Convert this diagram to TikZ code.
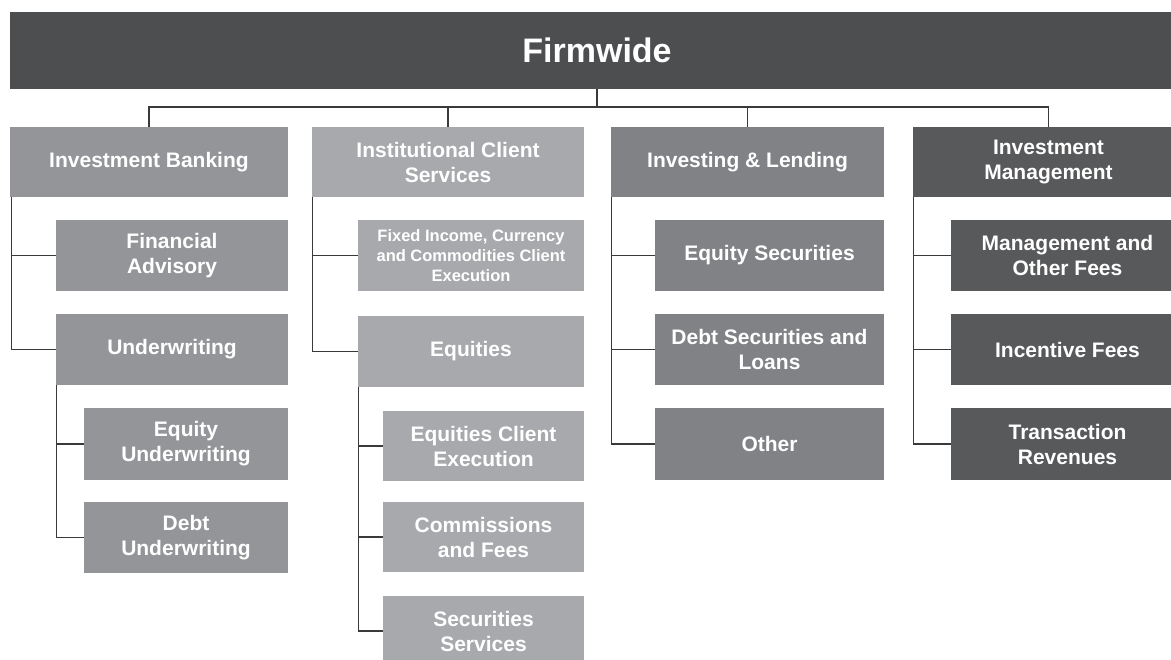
\documentclass[tikz,border=0pt]{standalone}
\usepackage{fontspec}
\setmainfont{Liberation Sans}
\definecolor{cfw}{HTML}{4D4E50}
\definecolor{cib}{HTML}{939598}
\definecolor{cics}{HTML}{A7A9AC}
\definecolor{cil}{HTML}{808285}
\definecolor{cim}{HTML}{58595B}
\definecolor{linec}{HTML}{3A3A3C}
\tikzset{
  box/.style={inner sep=0pt, align=center, text=white, font=\bfseries\fontsize{21}{25}\selectfont},
  smallbox/.style={box, font=\bfseries\fontsize{16.5}{20}\selectfont},
  conn/.style={draw=linec, line width=1.2pt}
}
\newcommand\mybox[8][box]{%
  \node[#1, fill=#7, minimum width={(#4-#2)*1pt}, minimum height={(#5-#3)*1pt}] (#6) at ({(#2+#4)/2},{(#3+#5)/2}) {#8};}
\begin{document}
\begin{tikzpicture}[x=1pt,y=-1pt]
\useasboundingbox (0,0) rectangle (1171,660);
\clip (0,0) rectangle (1171,660);
% top bar
\node[box, fill=cfw, minimum width=1174pt, minimum height=77pt, font=\bfseries\fontsize{34}{40}\selectfont] (fw) at (597,50.5) {Firmwide};
% level 1
\mybox{10}{127}{288}{197}{ib}{cib}{Investment Banking}
\mybox{312}{127}{584}{197}{ics}{cics}{Institutional Client\\Services}
\mybox{611}{127}{884}{197}{il}{cil}{Investing \& Lending}
\mybox{913}{127}{1184}{197}{im}{cim}{Investment\\Management}
% investment banking
\mybox{56}{220}{288}{291}{fa}{cib}{Financial\\Advisory}
\mybox{56}{314}{288}{385}{uw}{cib}{Underwriting}
\mybox{84}{408}{288}{480}{equw}{cib}{Equity\\Underwriting}
\mybox{84}{502}{288}{573}{dtuw}{cib}{Debt\\Underwriting}
% institutional client services
\mybox[smallbox]{358}{220}{584}{291}{ficc}{cics}{Fixed Income, Currency\\and Commodities Client\\Execution}
\mybox{358}{316}{584}{387}{eq}{cics}{Equities}
\mybox{383}{411}{584}{481}{ece}{cics}{Equities Client\\Execution}
\mybox{383}{502}{584}{572}{cf}{cics}{Commissions\\and Fees}
\mybox{383}{596}{584}{666}{ss}{cics}{Securities\\Services}
% investing & lending
\mybox{655}{220}{884}{291}{es}{cil}{Equity Securities}
\mybox{655}{314}{884}{385}{dsl}{cil}{Debt Securities and\\Loans}
\mybox{655}{408}{884}{480}{oth}{cil}{Other}
% investment management
\mybox{951}{220}{1184}{291}{mof}{cim}{Management and\\Other Fees}
\mybox{951}{314}{1184}{385}{inf}{cim}{Incentive Fees}
\mybox{951}{408}{1184}{480}{tr}{cim}{Transaction\\Revenues}
% connectors
\coordinate (bus) at (597,107);
\draw[conn] (fw.south -| bus) -- (bus);
\draw[conn] (ib.north) -- (ib.north |- bus) -- (im.north |- bus) -- (im.north);
\draw[conn] (ics.north) -- (ics.north |- bus);
\draw[conn] (il.north) -- (il.north |- bus);
\draw[conn] ([xshift=2pt]ib.south west) |- (fa.west);
\draw[conn] ([xshift=2pt]ib.south west) |- (uw.west);
\draw[conn] ([xshift=1pt]uw.south west) |- (equw.west);
\draw[conn] ([xshift=1pt]uw.south west) |- (dtuw.west);
\draw[conn] ([xshift=1pt]ics.south west) |- (ficc.west);
\draw[conn] ([xshift=1pt]ics.south west) |- (eq.west);
\draw[conn] ([xshift=1pt]eq.south west) |- (ece.west);
\draw[conn] ([xshift=1pt]eq.south west) |- (cf.west);
\draw[conn] ([xshift=1pt]eq.south west) |- (ss.west);
\draw[conn] ([xshift=1pt]il.south west) |- (es.west);
\draw[conn] ([xshift=1pt]il.south west) |- (dsl.west);
\draw[conn] ([xshift=1pt]il.south west) |- (oth.west);
\draw[conn] ([xshift=1pt]im.south west) |- (mof.west);
\draw[conn] ([xshift=1pt]im.south west) |- (inf.west);
\draw[conn] ([xshift=1pt]im.south west) |- (tr.west);
\end{tikzpicture}
\end{document}
